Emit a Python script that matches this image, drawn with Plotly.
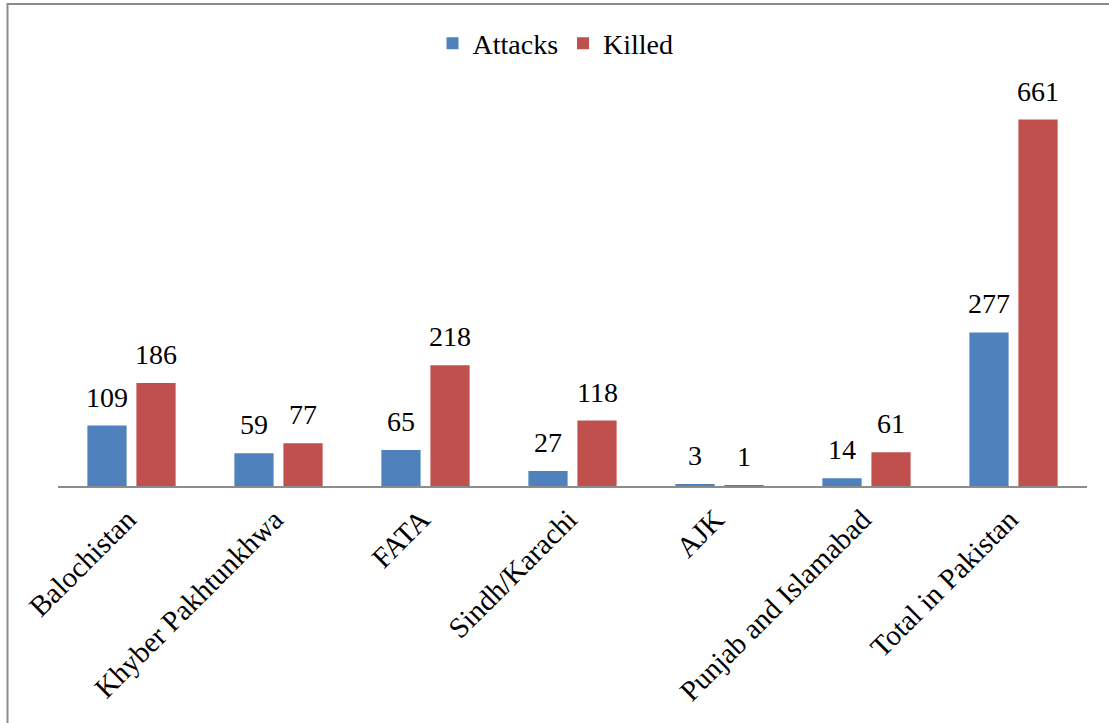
import plotly.graph_objects as go

regions = ["Balochistan", "Khyber Pakhtunkhwa", "FATA", "Sindh/Karachi",
           "AJK", "Punjab and Islamabad", "Total in Pakistan"]
attacks = [109, 59, 65, 27, 3, 14, 277]
killed = [186, 77, 218, 118, 1, 61, 661]

W, H = 1109, 723
L, R, T, B = 58, 22, 97.5, 237
FONT = "Liberation Serif"
FS = 28
BARGAP = 0.333
GROUPGAP = 0.2

fig = go.Figure()
fig.add_trace(go.Bar(name="Attacks", x=regions, y=attacks,
                     marker_color="#4F81BD", marker_line_width=0))
fig.add_trace(go.Bar(name="Killed", x=regions, y=killed,
                     marker_color="#C0504D", marker_line_width=0))

plot_w = W - L - R
plot_h = H - T - B

# value labels above each bar, offset sideways to the bar's slot in the group
cat_px = plot_w / len(regions)
slot_px = cat_px * (1 - BARGAP) / 2
for values, side in ((attacks, -1), (killed, 1)):
    for region, v in zip(regions, values):
        fig.add_annotation(x=region, y=v, text=str(v), showarrow=False,
                           xshift=side * slot_px / 2, yshift=11,
                           yanchor="bottom", xanchor="center",
                           font=dict(family=FONT, size=FS, color="black"))

# outer chart frame (only its top and left edges fall inside the canvas)
fig.add_shape(type="rect", xref="paper", yref="paper",
              x0=(7.5 - L) / plot_w, x1=1.15,
              y0=-0.8, y1=(H - B - 3.5) / plot_h,
              line=dict(color="#8C8C8C", width=2), fillcolor="rgba(0,0,0,0)",
              layer="below")

fig.update_layout(
    width=W, height=H,
    margin=dict(l=L, r=R, t=T, b=B, autoexpand=False),
    paper_bgcolor="white", plot_bgcolor="white",
    barmode="group", bargap=BARGAP, bargroupgap=GROUPGAP,
    font=dict(family=FONT, size=FS, color="black"),
    showlegend=True,
    legend=dict(orientation="h", x=0.5 - 17 / plot_w, xanchor="center",
                y=(H - B - 43) / plot_h, yanchor="middle",
                font=dict(family=FONT, size=FS, color="black"),
                itemwidth=30, traceorder="normal"),
    xaxis=dict(showline=True, linecolor="#8C8C8C", linewidth=2,
               ticks="", tickangle=-45, showgrid=False,
               ticklabelshift=-4, ticklabelstandoff=3,
               tickfont=dict(family=FONT, size=29, color="black")),
    yaxis=dict(range=[0, 700], visible=False, showgrid=False, zeroline=False),
)

fig.write_html("out.html")
